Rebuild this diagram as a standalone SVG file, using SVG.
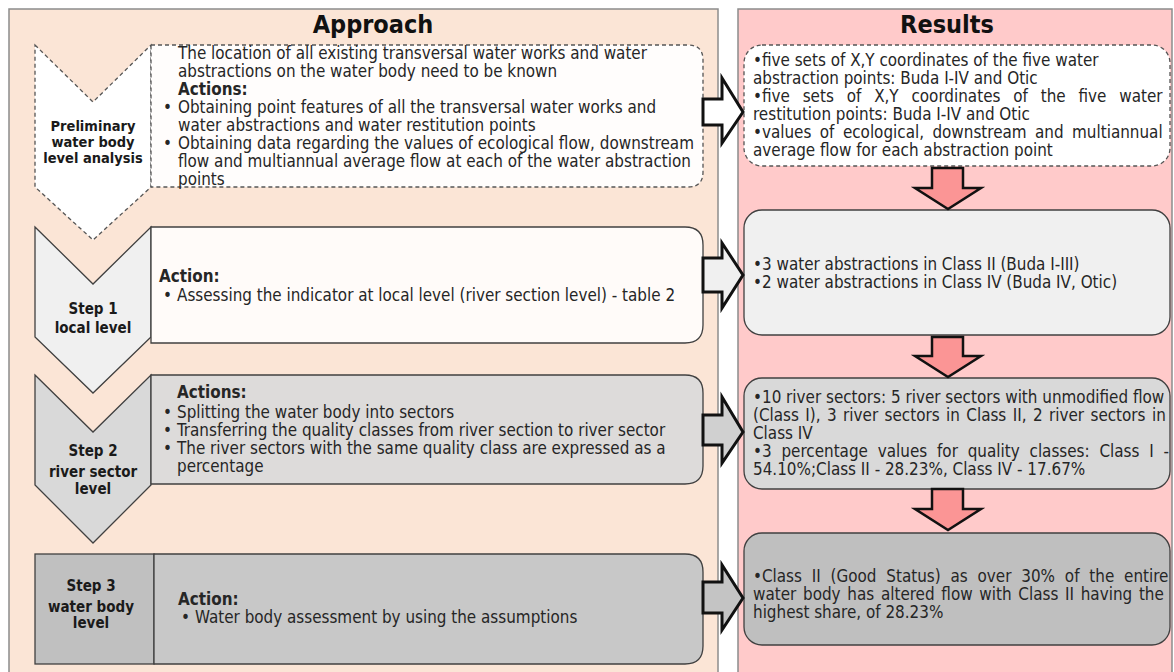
<svg xmlns="http://www.w3.org/2000/svg" width="1174" height="672" viewBox="0 0 1174 672">
<style>
text{font-family:'DejaVu Sans Condensed','DejaVu Sans',sans-serif;fill:#262626}
.t{font-size:16.9px}
.b{font-weight:bold}
.lab{font-size:15px;font-weight:bold;text-anchor:middle;fill:#1a1a1a}
.title{font-size:25px;font-weight:bold;text-anchor:middle;fill:#111}
.dash{stroke:#555;stroke-width:1.3;stroke-dasharray:4 3}
.solid{stroke:#404040;stroke-width:1.3}
.rarr{stroke:#111;stroke-width:3;stroke-linejoin:miter}
.darr{fill:#fb9595;stroke:#111;stroke-width:2.5}
</style>
<rect width="1174" height="672" fill="#ffffff"/>
<g id="panel-approach">
<rect x="9" y="9" width="709" height="670" fill="#fbe5d6" stroke="#8c8c8c" stroke-width="1.5"/>
<text class="title" x="373" y="33">Approach</text>
</g>
<g id="panel-results">
<rect x="738" y="9" width="434" height="670" fill="#ffcaca" stroke="#8c8c8c" stroke-width="1.5"/>
<text class="title" x="947" y="33">Results</text>
</g>
<g id="prelim">
<path class="dash" d="M35,45 L93,102 L151,45 L151,187 L93,240 L35,187 Z" fill="#ffffff"/>
<text class="lab" style="font-size:14.5px" x="93" y="131">Preliminary</text>
<text class="lab" style="font-size:14.5px" x="93" y="147">water body</text>
<text class="lab" style="font-size:14.5px" x="93" y="163">level analysis</text>
<path class="dash" d="M151,45 H688 Q703,45 703,60 V172 Q703,187 688,187 H151 Z" fill="#fffdfc"/>
<text class="t" x="178" y="59">The location of all existing transversal water works and water</text>
<text class="t" x="178" y="77">abstractions on the water body need to be known</text>
<text class="t b" x="178" y="95">Actions:</text>
<text class="t"><tspan x="163" y="113">•</tspan><tspan x="178" y="113">Obtaining point features of all the transversal water works and</tspan></text>
<text class="t" x="178" y="131">water abstractions and water restitution points</text>
<text class="t"><tspan x="163" y="149">•</tspan><tspan x="178" y="149">Obtaining data regarding the values of ecological flow, downstream</tspan></text>
<text class="t" x="178" y="167">flow and multiannual average flow at each of the water abstraction</text>
<text class="t" x="178" y="185">points</text>
</g>
<g id="step1">
<path class="solid" d="M35,227 L93,284 L151,227 L151,337 L93,393 L35,337 Z" fill="#f0f0f0"/>
<text class="lab" x="93" y="314">Step 1</text>
<text class="lab" x="93" y="333">local level</text>
<path class="solid" d="M151,227 H685 Q703,227 703,245 V325 Q703,343 685,343 H151 Z" fill="#fffbf9"/>
<text class="t b" x="159" y="282">Action:</text>
<text class="t"><tspan x="163" y="301">•</tspan><tspan x="177" y="301">Assessing the indicator at local level (river section level) - table 2</tspan></text>
</g>
<g id="step2">
<path class="solid" d="M35,375 L93,432 L151,375 L151,485 L93,543 L35,485 Z" fill="#d9d9d9"/>
<text class="lab" x="93" y="456">Step 2</text>
<text class="lab" x="93" y="477">river sector</text>
<text class="lab" x="93" y="494">level</text>
<path class="solid" d="M151,375 H685 Q703,375 703,393 V466 Q703,484 685,484 H151 Z" fill="#dddbda"/>
<text class="t b" x="177" y="398">Actions:</text>
<text class="t"><tspan x="163" y="418">•</tspan><tspan x="177" y="418">Splitting the water body into sectors</tspan></text>
<text class="t"><tspan x="163" y="436">•</tspan><tspan x="177" y="436">Transferring the quality classes from river section to river sector</tspan></text>
<text class="t"><tspan x="163" y="454">•</tspan><tspan x="177" y="454">The river sectors with the same quality class are expressed as a</tspan></text>
<text class="t" x="177" y="472">percentage</text>
</g>
<g id="step3">
<rect class="solid" x="35" y="554" width="119" height="110" fill="#c0c0c0"/>
<text class="lab" x="91" y="591">Step 3</text>
<text class="lab" x="91" y="612">water body</text>
<text class="lab" x="91" y="628">level</text>
<path class="solid" d="M154,554 H685 Q703,554 703,572 V646 Q703,664 685,664 H154 Z" fill="#c8c8c8"/>
<text class="t b" x="178" y="605">Action:</text>
<text class="t"><tspan x="181" y="623">•</tspan><tspan x="195" y="623">Water body assessment by using the assumptions</tspan></text>
</g>
<g id="res1">
<rect class="dash" x="744" y="45" width="426" height="121" rx="18" fill="#ffffff"/>
<text class="t" x="753" y="66">•five sets of X,Y coordinates of the five water</text>
<text class="t" x="753" y="84">abstraction points: Buda I-IV and Otic</text>
<text class="t" x="753" y="102" word-spacing="8">•five sets of X,Y coordinates of the five water</text>
<text class="t" x="753" y="120">restitution points: Buda I-IV and Otic</text>
<text class="t" x="753" y="138" word-spacing="3.6">•values of ecological, downstream and multiannual</text>
<text class="t" x="753" y="156">average flow for each abstraction point</text>
</g>
<g id="res2">
<rect class="solid" x="744" y="210" width="426" height="125" rx="18" fill="#f0f0f0"/>
<text class="t" x="753" y="270">•3 water abstractions in Class II (Buda I-III)</text>
<text class="t" x="753" y="288">•2 water abstractions in Class IV (Buda IV, Otic)</text>
</g>
<g id="res3">
<rect class="solid" x="744" y="378" width="426" height="111" rx="18" fill="#d9d9d9"/>
<text class="t" x="753" y="403">•10 river sectors: 5 river sectors with unmodified flow</text>
<text class="t" x="753" y="421" word-spacing="1.6">(Class I), 3 river sectors in Class II, 2 river sectors in</text>
<text class="t" x="753" y="439">Class IV</text>
<text class="t" x="753" y="457" word-spacing="5">•3 percentage values for quality classes: Class I -</text>
<text class="t" x="753" y="475">54.10%;Class II - 28.23%, Class IV - 17.67%</text>
</g>
<g id="res4">
<rect class="solid" x="744" y="533" width="426" height="112" rx="18" fill="#bfbfbf"/>
<text class="t" x="753" y="582" word-spacing="5">•Class II (Good Status) as over 30% of the entire</text>
<text class="t" x="753" y="600" word-spacing="1.9">water body has altered flow with Class II having the</text>
<text class="t" x="753" y="618">highest share, of 28.23%</text>
</g>
<g id="connectors">
<path class="rarr" d="M703,99 H722 V78 L743,112 L722,143 V125 H703 Z" fill="#ffffff"/>
<path class="rarr" d="M703,258 H722 V243 L743,275 L722,308 V292 H703 Z" fill="#f0f0f0"/>
<path class="rarr" d="M703,415 H722 V397 L743,432 L722,463 V445 H703 Z" fill="#d0d0d0"/>
<path class="rarr" d="M703,582 H722 V565 L743,598 L722,630 V613 H703 Z" fill="#c4c4c4"/>
<path class="darr" d="M932,168 H963 V188 H981 L948,209 L915,188 H932 Z"/>
<path class="darr" d="M932,337 H963 V356 H981 L948,377 L915,356 H932 Z"/>
<path class="darr" d="M932,489 H963 V509 H981 L948,530 L915,509 H932 Z"/>
</g>
</svg>
